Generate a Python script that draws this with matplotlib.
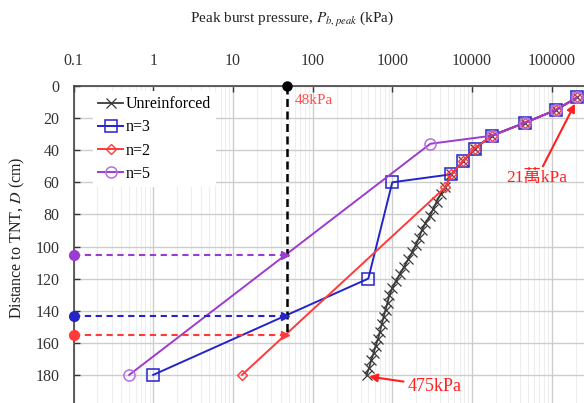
import matplotlib
matplotlib.use("Agg")
import matplotlib.pyplot as plt
from matplotlib.ticker import FixedLocator, NullFormatter, LogLocator

plt.rcParams['font.family'] = ['Liberation Serif', 'Noto Sans CJK TC']
plt.rcParams['mathtext.fontset'] = 'stix'

# ---- data ----
unr_P = [210000, 112000, 45600, 17600, 10800, 7670, 5530, 4645, 4027, 3606, 3273,
         2951, 2600, 2344, 2173, 1972, 1778, 1585, 1413, 1250, 1109, 1000, 916,
         871, 822, 776, 735, 700, 661, 617, 582, 543, 513, 475]
unr_D = [7, 15, 23, 31, 39, 47, 55, 63, 67.5, 72, 76.5, 81, 85.5, 90, 94.5, 99,
         103.5, 108, 112.5, 117, 121.5, 126, 130.5, 135, 139.5, 144, 148.5, 153,
         157.5, 162, 166.5, 171, 175.5, 180]

n3_P = [210000, 112000, 45600, 17600, 10800, 7670, 5530, 1000, 500, 1]
n3_D = [7, 15, 23, 31, 39, 47, 55, 60, 120, 180]

n2_P = [210000, 112000, 45600, 17600, 10800, 7670, 5530, 4645, 13]
n2_D = [7, 15, 23, 31, 39, 47, 55, 63, 180]

n5_P = [210000, 112000, 45600, 17600, 3000, 0.5]
n5_D = [7, 15, 23, 31, 36, 180]

threshold_P = 48
cross_D = [105, 143, 155]          # n=5, n=3, n=2
cross_names = ["n=5", "n=3", "n=2"]

x_ticks = [0.1, 1, 10, 100, 1000, 10000, 100000]
x_tick_labels = ["0.1", "1", "10", "100", "1000", "10000", "100000"]
y_ticks = [0, 20, 40, 60, 80, 100, 120, 140, 160, 180]

# ---- style ----
C_BLK = '#3a3a3a'
C_BLU = '#2424c8'
C_RED = '#ff3a3a'
C_PUR = '#9b3bd0'
C_ANN = '#ff2020'

fig = plt.figure(figsize=(5.84, 4.03), dpi=100)
W, H = 584, 403
left_px, top_px = 73.5, 86.0
dec_px = 79.7
ax = fig.add_axes([left_px / W, 1 - (top_px + 200 * 1.605) / H,
                   7 * dec_px / W, 200 * 1.605 / H])

ax.set_xscale('log')
ax.set_xlim(0.1, 1e6)
ax.set_ylim(200, 0)

# grid
ax.xaxis.set_minor_locator(LogLocator(base=10, subs=range(2, 10), numticks=20))
ax.xaxis.set_minor_formatter(NullFormatter())
ax.grid(True, which='major', axis='both', color='#cdcdcd', lw=1.0)
ax.grid(True, which='minor', axis='x', color='#eeeeee', lw=0.8)
ax.set_axisbelow(True)

# lines
ax.plot(unr_P, unr_D, color=C_BLK, lw=1.3, marker='x', ms=7, mew=0.9,
        label='Unreinforced', zorder=3)
ax.plot(n3_P, n3_D, color=C_BLU, lw=1.4, marker='s', ms=8, mfc='none',
        mew=1.1, label='n=3', zorder=4)
ax.plot(n2_P, n2_D, color=C_RED, lw=1.4, marker='D', ms=5.5, mfc='none',
        mew=1.0, label='n=2', zorder=5)
ax.plot(n5_P, n5_D, color=C_PUR, lw=1.4, marker='o', ms=8, mfc='none',
        mec='#b86ee0', mew=1.1, label='n=5', zorder=6)

# threshold lines
ax.plot([threshold_P, threshold_P], [0, cross_D[2]], color='black', lw=1.8,
        ls=(0, (3.2, 1.8)), zorder=7)
ax.plot([threshold_P], [0], marker='o', color='black', ms=6.5, clip_on=False, zorder=8)
for d, c in zip(cross_D, [C_PUR, C_BLU, C_RED]):
    ax.plot([0.1, threshold_P], [d, d], color=c, lw=1.5, ls=(0, (3.0, 2.2)), zorder=7)
    ax.plot([0.1], [d], marker='o', color=c, ms=7, clip_on=False, zorder=8)
    ax.plot([threshold_P * 0.93], [d], marker='>', color=c, ms=6, zorder=8)

# ticks
ax.xaxis.set_major_locator(FixedLocator(x_ticks))
ax.set_xticklabels(x_tick_labels)
ax.set_yticks(y_ticks)
ax.xaxis.tick_top()
ax.tick_params(axis='x', which='major', direction='in', length=4, pad=12,
               labelsize=11.5, colors='#333333', width=1)
ax.tick_params(axis='x', which='minor', length=0)
ax.tick_params(axis='y', direction='in', length=4, pad=10, labelsize=11.5,
               colors='#333333', width=1)
for s in ['right', 'bottom']:
    ax.spines[s].set_visible(False)
for s in ['top', 'left']:
    ax.spines[s].set_color('#444444')
    ax.spines[s].set_linewidth(1.2)

# labels
fig.text(292 / W, 1 - 20 / H, r"Peak burst pressure, $P_{b,peak}$ (kPa)",
         ha='center', va='center', fontsize=11, color='#222222')
fig.text(17 / W, 1 - 238 / H, r"Distance to TNT, $D$ (cm)", rotation=90,
         ha='center', va='center', fontsize=11.5, color='#222222')

# legend
leg = ax.legend(loc='upper left', bbox_to_anchor=(0.035, 0.983), fontsize=11.5,
                frameon=True, framealpha=1, edgecolor='none', facecolor='white',
                handlelength=1.6, handletextpad=0.15, labelspacing=0.45,
                borderpad=0.3, borderaxespad=0)

# annotations
ax.text(60, 9, "48kPa", color='#ff5050', fontsize=11, ha='left', va='center')
ax.annotate("21萬kPa", xy=(196000, 11), xytext=(65000, 57.5), color=C_ANN,
            fontsize=12.5, ha='center', va='center',
            arrowprops=dict(arrowstyle='-|>', color=C_ANN, lw=1.5,
                            mutation_scale=12, shrinkA=1, shrinkB=0))
ax.annotate("475kPa", xy=(510, 181), xytext=(3400, 187), color=C_ANN,
            fontsize=13, ha='center', va='center', annotation_clip=False,
            arrowprops=dict(arrowstyle='-|>', color=C_ANN, lw=1.5,
                            mutation_scale=12, shrinkA=1, shrinkB=0))

fig.savefig("out.png", dpi=100)
